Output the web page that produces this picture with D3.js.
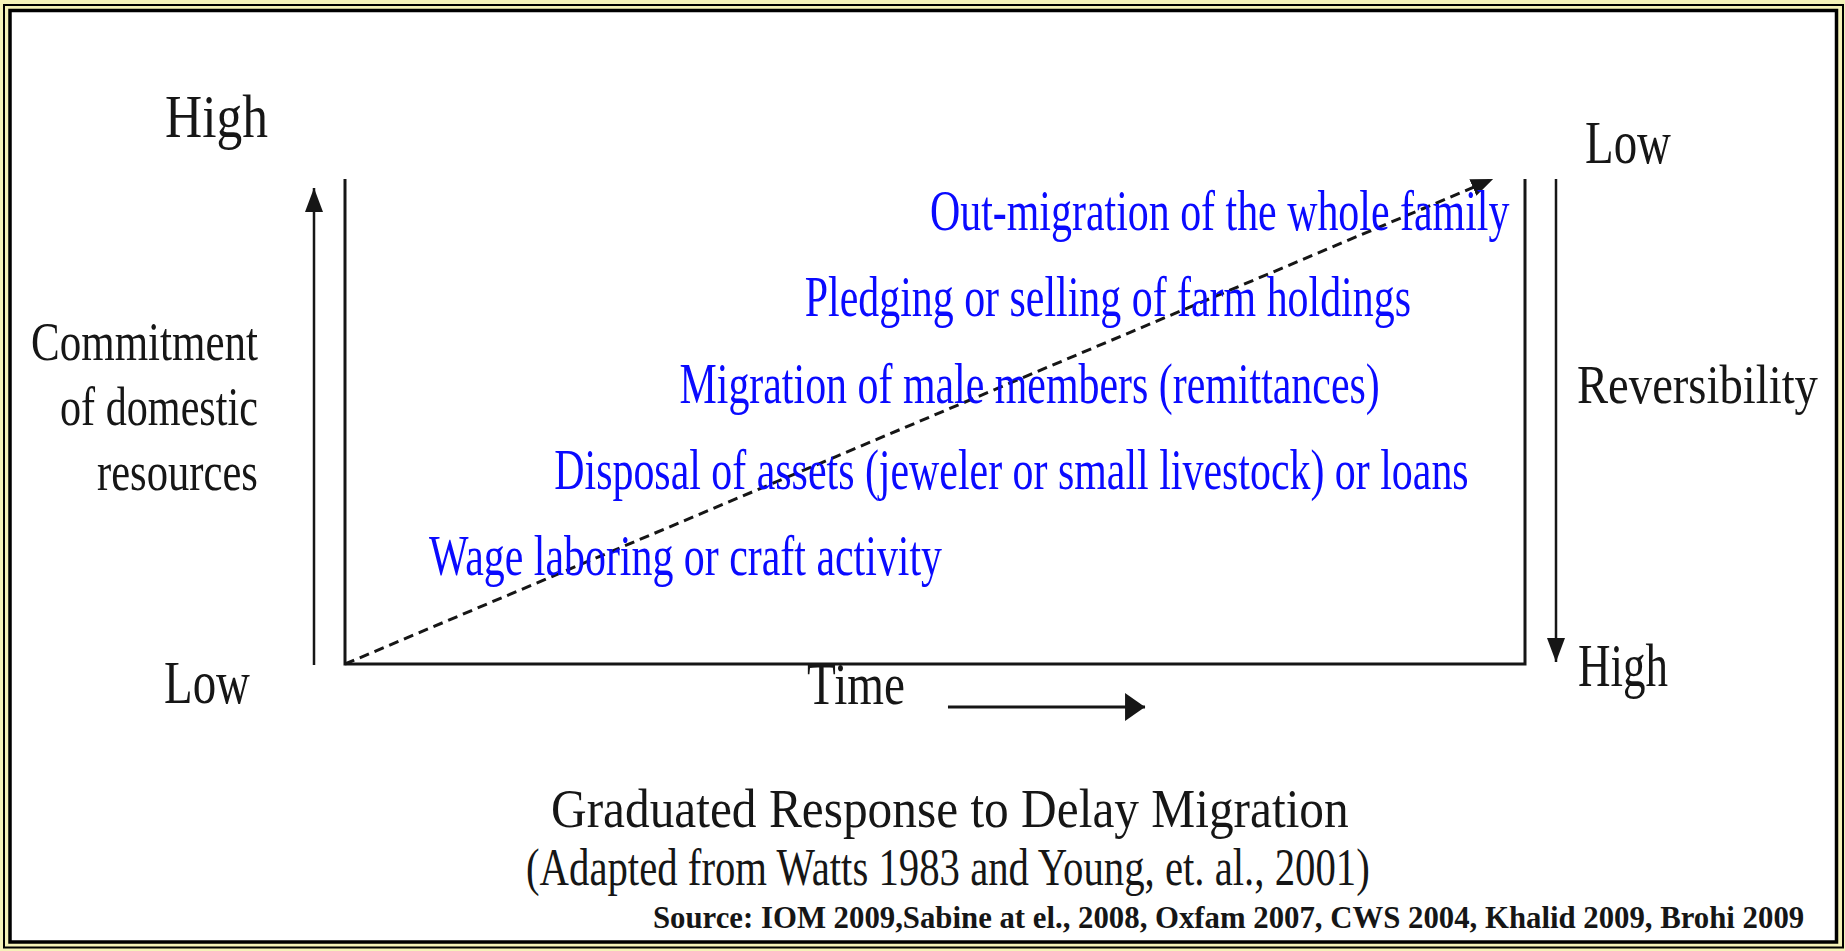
<!DOCTYPE html>
<html>
<head>
<meta charset="utf-8">
<script src="https://cdn.jsdelivr.net/npm/d3@7"></script>
<style>
  html, body { margin: 0; padding: 0; background: #f5f2b8; }
  svg { display: block; }
  text { font-family: "Liberation Serif", "Times New Roman", serif; }
</style>
</head>
<body>
<div id="container"></div>
<script>
/* DATA */
// coping steps, from first (low commitment) to last (high commitment)
const steps = [
  "Wage laboring or craft activity",
  "Disposal of assets (jeweler or small livestock) or loans",
  "Migration of male members (remittances)",
  "Pledging or selling of farm holdings",
  "Out-migration of the whole family"
];
const commitmentLabel = ["Commitment", "of domestic", "resources"];
const commitmentEnds = ["Low", "High"];      // bottom, top
const reversibilityEnds = ["High", "Low"];   // bottom, top
const reversibilityLabel = "Reversibility";
const timeLabel = "Time";
const titleLines = ["Graduated Response to Delay Migration",
                    "(Adapted from Watts 1983 and Young, et. al., 2001)"];
const sourceNote = "Source: IOM 2009,Sabine at el., 2008, Oxfam 2007, CWS 2004, Khalid 2009, Brohi 2009";
// dashed trend: time share vs commitment share
const trend = [{ t: 0, c: 0 }, { t: 0.973, c: 1 }];

/* CONSTANTS */
const width = 1845, height = 951;
const ink = "#161616", blue = "#0a0aff";
const squeeze = 0.735; // the original face is tall and narrow

/* SCALES */
const x = d3.scaleLinear().domain([0, 1]).range([345, 1525]);   // time
const y = d3.scaleLinear().domain([0, 1]).range([664, 179]);    // commitment
const stepY = d3.scalePoint().domain(steps).range([575, 230]);
const stepX = d3.scaleLinear().domain([0, steps.length - 1]).range([429, 930]);

const svg = d3.select("#container").append("svg")
  .attr("width", width)
  .attr("height", height);

/* frame: double black border on pale yellow */
svg.append("rect")
  .attr("x", 4).attr("y", 5).attr("width", 1839).attr("height", 942.5)
  .attr("fill", "#f5f2b8").attr("stroke", "#000").attr("stroke-width", 2);
svg.append("rect")
  .attr("x", 10).attr("y", 10.5).attr("width", 1826.5).attr("height", 931.5)
  .attr("fill", "#fff").attr("stroke", "#000").attr("stroke-width", 3.5);

/* arrow heads */
const defs = svg.append("defs");
function addMarker(id, len, wid) {
  defs.append("marker")
    .attr("id", id)
    .attr("markerUnits", "userSpaceOnUse")
    .attr("viewBox", `0 0 ${len} ${wid}`)
    .attr("refX", len).attr("refY", wid / 2)
    .attr("markerWidth", len).attr("markerHeight", wid)
    .attr("orient", "auto")
    .append("path")
    .attr("d", `M0,0 L${len},${wid / 2} L0,${wid} Z`)
    .attr("fill", ink);
}
addMarker("headV", 24, 18);
addMarker("headH", 20, 28);
addMarker("headD", 22, 18);

/* box (open at the top) */
svg.append("path")
  .attr("d", `M${x(0)},${y(1)} L${x(0)},${y(0)} L${x(1)},${y(0)} L${x(1)},${y(1)}`)
  .attr("fill", "none")
  .attr("stroke", ink)
  .attr("stroke-width", 3);

/* commitment arrow (up) and reversibility arrow (down) */
svg.append("line")
  .attr("x1", x(0) - 31).attr("x2", x(0) - 31)
  .attr("y1", y(0) + 1).attr("y2", y(1) + 9)
  .attr("stroke", ink).attr("stroke-width", 2.5)
  .attr("marker-end", "url(#headV)");
svg.append("line")
  .attr("x1", x(1) + 31).attr("x2", x(1) + 31)
  .attr("y1", y(1)).attr("y2", y(0) - 2)
  .attr("stroke", ink).attr("stroke-width", 2.5)
  .attr("marker-end", "url(#headV)");

/* time arrow */
svg.append("line")
  .attr("x1", x(0.511)).attr("x2", x(0.678))
  .attr("y1", y(0) + 43).attr("y2", y(0) + 43)
  .attr("stroke", ink).attr("stroke-width", 3)
  .attr("marker-end", "url(#headH)");

/* dashed trend arrow */
svg.append("path")
  .datum(trend)
  .attr("d", d3.line().x(d => x(d.t)).y(d => y(d.c)))
  .attr("fill", "none")
  .attr("stroke", ink)
  .attr("stroke-width", 3)
  .attr("stroke-dasharray", "10,6")
  .attr("marker-end", "url(#headD)");

/* text helper: squeeze glyphs horizontally to a given width */
function label(txt, left, base, fs, w, opts = {}) {
  const t = svg.append("text")
    .attr("x", 0).attr("y", 0)
    .attr("font-size", fs)
    .attr("font-weight", opts.bold ? "bold" : "normal")
    .attr("fill", opts.fill || ink)
    .text(txt);
  const sx = w / t.node().getComputedTextLength();
  t.attr("transform", `translate(${left},${base}) scale(${sx},1)`);
  return t;
}

/* coping steps, blue, one squeeze factor for all */
svg.selectAll(".step")
  .data(steps)
  .join("text")
  .attr("class", "step")
  .attr("x", 0).attr("y", 0)
  .attr("transform", (d, i) => `translate(${stepX(i)},${stepY(d)}) scale(${squeeze},1)`)
  .attr("font-size", 57)
  .attr("fill", blue)
  .text(d => d);

/* left axis labels */
label(commitmentEnds[1], 165, y(1) - 42, 61, 103);
label(commitmentEnds[0], 164, y(0) + 39, 61, 86);
const cRight = 258;
const cWidths = [227, 198, 161];
commitmentLabel.forEach((t, i) => {
  label(t, cRight - cWidths[i], 360 + i * 65, 55, cWidths[i]);
});

/* right axis labels */
label(reversibilityEnds[1], 1585, y(1) - 16, 61, 86);
label(reversibilityEnds[0], 1578, y(0) + 22, 61, 90);
label(reversibilityLabel, 1577, 403, 55, 241);

/* time */
label(timeLabel, 807, y(0) + 40, 59, 98);

/* titles and source */
label(titleLines[0], 551, 827, 54, 798);
label(titleLines[1], 526, 885, 53, 844);
label(sourceNote, 653, 928, 31, 1152, { bold: true });
</script>
</body>
</html>
